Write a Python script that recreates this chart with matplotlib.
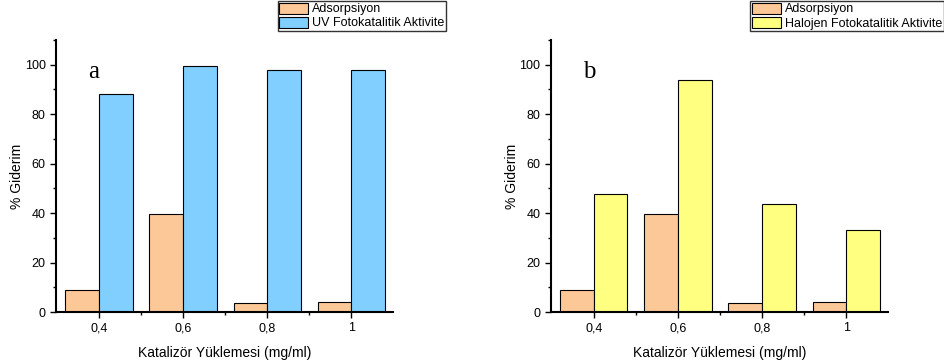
import matplotlib
matplotlib.use("Agg")
import matplotlib.pyplot as plt
import numpy as np
from matplotlib.ticker import MultipleLocator

categories = ["0,4", "0,6", "0,8", "1"]
adsorption = [8.8, 39.5, 3.5, 4.0]
uv_activity = [88.0, 99.5, 98.0, 98.0]
halogen_activity = [47.8, 94.0, 43.8, 33.0]

plt.rcParams["font.family"] = ["Liberation Sans", "DejaVu Sans"]

fig = plt.figure(figsize=(9.45, 3.62), dpi=100)
ax_a = fig.add_axes([0.0593, 0.138, 0.357, 0.7515])
ax_b = fig.add_axes([0.583, 0.138, 0.357, 0.7515])

panels = [
    (ax_a, uv_activity, "UV Fotokatalitik Aktivite", "#80cfff", "a",
     "upper left", (0.2931, 1.0)),
    (ax_b, halogen_activity, "Halojen Fotokatalitik Aktivite", "#ffff80", "b",
     "upper right", (0.9995, 1.0)),
]

x = np.arange(len(categories))
w = 0.4
for ax, activity, label, color, letter, leg_loc, leg_anchor in panels:
    b1 = ax.bar(x - w / 2, adsorption, w, color="#fdc897", edgecolor="black", linewidth=0.8,
                label="Adsorpsiyon")
    b2 = ax.bar(x + w / 2, activity, w, color=color, edgecolor="black", linewidth=0.8,
                label=label)
    ax.set_xlim(-0.51, 3.5)
    ax.set_ylim(0, 110)
    ax.set_xticks(x)
    ax.set_xticklabels(categories)
    ax.set_xticks(x[:-1] + 0.5, minor=True)
    ax.yaxis.set_major_locator(MultipleLocator(20))
    ax.yaxis.set_minor_locator(MultipleLocator(10))
    ax.tick_params(which="both", direction="out", labelsize=9, width=1)
    ax.tick_params(which="major", length=4)
    ax.tick_params(which="minor", length=2.5)
    for side in ["top", "right"]:
        ax.spines[side].set_visible(False)
    for side in ["left", "bottom"]:
        ax.spines[side].set_linewidth(1.5)
    ax.set_xlabel("Katalizör Yüklemesi (mg/ml)", fontsize=10, labelpad=8)
    ax.set_ylabel("% Giderim", fontsize=10)
    ax.yaxis.set_label_coords(-0.095, 0.5)
    ax.text(-0.13, 97, letter, fontsize=18, family="Liberation Serif", va="center")
    fig.legend(handles=[b1, b2], loc=leg_loc, bbox_to_anchor=leg_anchor,
               fontsize=9, frameon=True, fancybox=False, edgecolor="black",
               borderpad=0.15, labelspacing=0.1, handlelength=2.3, handleheight=1.0,
               handletextpad=0.3, borderaxespad=0.05)

fig.savefig("out.png", dpi=100)
